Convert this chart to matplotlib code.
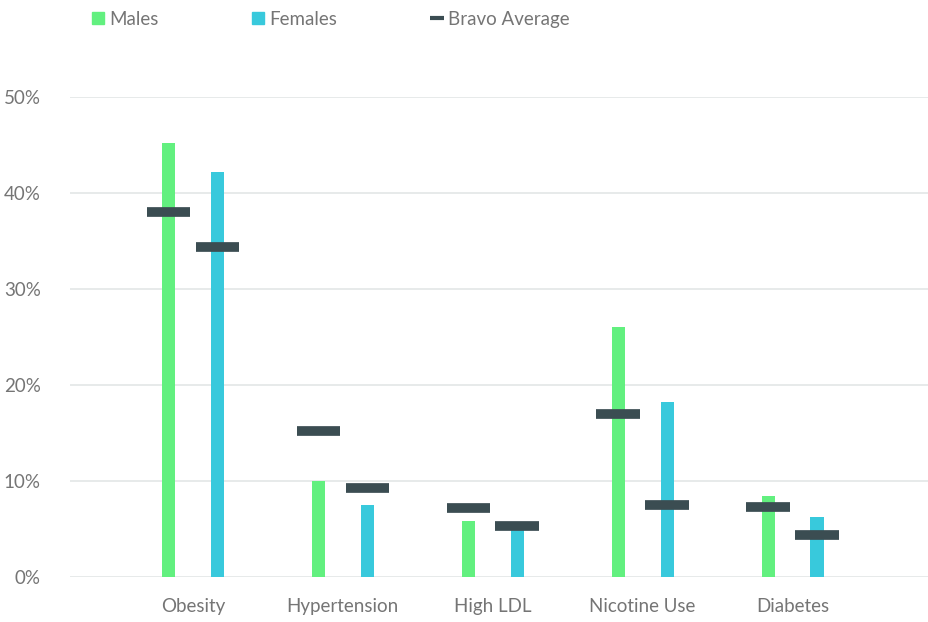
import matplotlib.pyplot as plt
from matplotlib.lines import Line2D
import numpy as np

# data
categories = ['Obesity', 'Hypertension', 'High LDL', 'Nicotine Use', 'Diabetes']
males = [45.2, 10.0, 5.8, 26.0, 8.4]
females = [42.2, 7.5, 5.0, 18.2, 6.25]
avg_males = [38.0, 15.2, 7.2, 17.0, 7.3]
avg_females = [34.4, 9.3, 5.3, 7.5, 4.4]
yticks = [0, 10, 20, 30, 40, 50]

green = '#62f07f'
blue = '#38c9dc'
dark = '#3b4d52'
grey = '#757575'

plt.rcParams['font.family'] = ['Lato', 'DejaVu Sans']

W, H = 929, 622
fig = plt.figure(figsize=(W / 100, H / 100), dpi=100)
# axes: x 70..929 px, y 97 (50%) .. 577 (0%)
ax = fig.add_axes([70 / W, (H - 577) / H, (929 - 70) / W, (577 - 97) / H])

x = np.arange(len(categories))
off = 0.163
bw = 0.087
aw = 0.29

ax.bar(x - off, males, width=bw, color=green, zorder=2)
ax.bar(x + off, females, width=bw, color=blue, zorder=2)
for xi, a in zip(x - off, avg_males):
    ax.plot([xi - aw / 2, xi + aw / 2], [a, a], color=dark, lw=7, solid_capstyle='butt', zorder=3)
for xi, a in zip(x + off, avg_females):
    ax.plot([xi - aw / 2, xi + aw / 2], [a, a], color=dark, lw=7, solid_capstyle='butt', zorder=3)

ax.set_xlim(-0.82, 4.91)
ax.set_ylim(0, 50)
ax.set_yticks(yticks)
ax.set_yticklabels([f'{t}%' for t in yticks])
ax.set_xticks(x)
ax.set_xticklabels(categories)
ax.tick_params(length=0, colors=grey, labelsize=13.5)
ax.tick_params(axis='y', pad=21)
ax.tick_params(axis='x', pad=15)
ax.grid(axis='y', color='#e3e6e6', lw=1.2, zorder=0)
ax.set_axisbelow(True)
for s in ax.spines.values():
    s.set_visible(False)

handles = [
    Line2D([], [], marker='s', ls='none', color=green, markersize=8),
    Line2D([], [], marker='s', ls='none', color=blue, markersize=8),
    Line2D([], [], marker='_', ls='none', color=dark, markersize=10, markeredgewidth=3),
]
leg = fig.legend(handles, ['Males', 'Females', 'Bravo Average'], ncol=3,
                 loc='upper left', bbox_to_anchor=(72 / W, 1.0 + 6 / H), frameon=False,
                 fontsize=13.5, handletextpad=0.1, columnspacing=4.8, handlelength=1.0)
for t in leg.get_texts():
    t.set_color(grey)

fig.savefig('out.png', dpi=100)
